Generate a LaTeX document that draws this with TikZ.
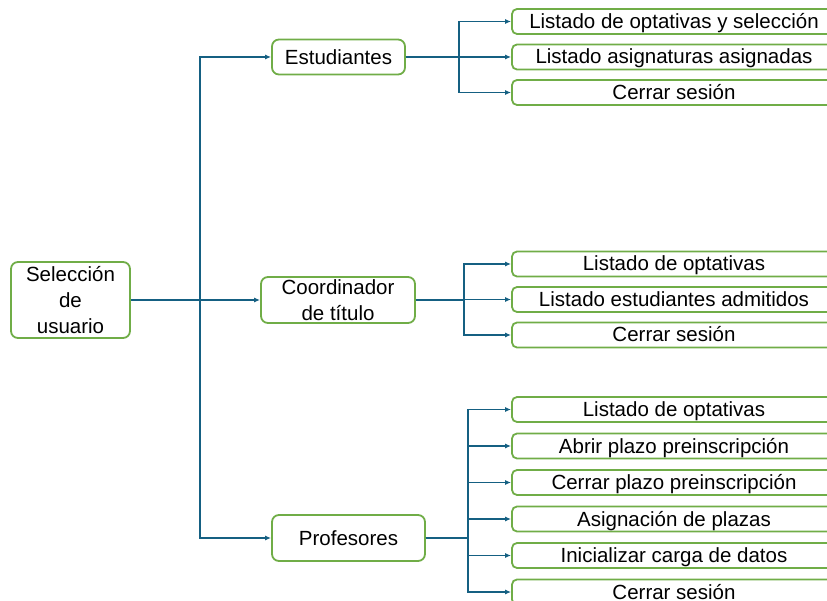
\documentclass[tikz,border=0pt]{standalone}
\usepackage{fontspec}
\setmainfont{Liberation Sans}
\usetikzlibrary{arrows.meta}
\definecolor{boxgreen}{RGB}{112,173,71}
\definecolor{linkblue}{RGB}{21,96,130}
\tikzset{
  mbox/.style={draw=boxgreen,line width=1.8pt,rounded corners=7pt,fill=white,align=center,inner sep=0pt},
  leaf/.style={draw=boxgreen,line width=1.8pt,rounded corners=5pt,fill=white,minimum width=324pt,minimum height=25pt,inner sep=0pt,text height=16pt,text depth=2pt},
  link/.style={draw=linkblue,line width=1.6pt,-{Latex[length=6pt,width=5pt]}}
}
\begin{document}
\begin{tikzpicture}[x=1pt,y=-1pt,font=\fontsize{20.5}{26}\selectfont]
\useasboundingbox (0,0) rectangle (827,601);
% main boxes
\node[mbox,minimum width=119pt,minimum height=76pt] (sel) at (70.5,300) {Selección\\de\\usuario};
\node[mbox,minimum width=133pt,minimum height=35pt] (est) at (338.5,57) {Estudiantes};
\node[mbox,minimum width=154pt,minimum height=46pt] (coord) at (338,300) {Coordinador\\de título};
\node[mbox,minimum width=153pt,minimum height=46pt] (prof) at (348.5,538) {Profesores};
% leaves
\foreach \t [count=\i] in {Listado de optativas y selección,Listado asignaturas asignadas,Cerrar sesión}
  \node[leaf] (e\i) at (674,{21.5+35.5*(\i-1)}) {\t};
\foreach \t [count=\i] in {Listado de optativas,Listado estudiantes admitidos,Cerrar sesión}
  \node[leaf] (c\i) at (674,{264+35.5*(\i-1)}) {\t};
\foreach \t [count=\i] in {Listado de optativas,Abrir plazo preinscripción,Cerrar plazo preinscripción,Asignación de plazas,Inicializar carga de datos,Cerrar sesión}
  \node[leaf] (p\i) at (674,{409.5+36.5*(\i-1)}) {\t};
% connectors
\coordinate (trunk) at (200,300);
\draw[link] (sel.east) -- (coord.west);
\draw[link] (trunk) |- (est.west);
\draw[link] (trunk) |- (prof.west);
\coordinate (eb) at (459,57);
\coordinate (cb) at (464,300);
\coordinate (pb) at (468,538);
\foreach \i in {1,2,3} {
  \draw[link] (est.east) -- (eb) |- (e\i.west);
  \draw[link] (coord.east) -- (cb) |- (c\i.west);
}
\foreach \i in {1,...,6}
  \draw[link] (prof.east) -- (pb) |- (p\i.west);
\end{tikzpicture}
\end{document}
